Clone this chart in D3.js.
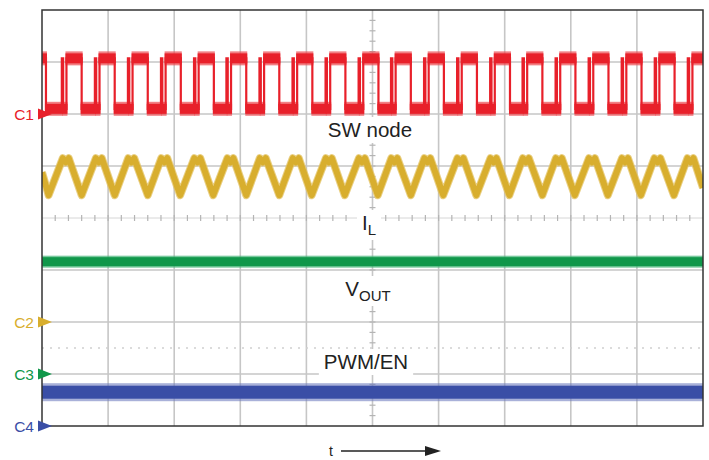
<!DOCTYPE html>
<html>
<head>
<meta charset="utf-8">
<script src="https://cdn.jsdelivr.net/npm/d3@7"></script>
<style>
  body { margin: 0; background: #fff; }
  svg { display: block; }
  text { font-family: "Liberation Sans", Arial, sans-serif; }
</style>
</head>
<body>
<svg id="chart" width="709" height="460"></svg>
<script>
// scope screen is 10 x 8 divisions, time and level both in divisions
var xDivs = d3.range(0, 11);
var yDivs = d3.range(-4, 5);

// C1, SW node: time of the ringing spike in front of each pulse
var swSpikes = [0.30, 0.80, 1.30, 1.80, 2.30, 2.79, 3.29, 3.79, 4.29, 4.79,
                5.28, 5.78, 6.28, 6.78, 7.27, 7.77, 8.27, 8.77, 9.27, 9.77];
var swPulse = [0, 0.02, 0.07, 0.30]; // up, down, up, down after each spike
var swHigh = 3.07, swLow = 2.1;
var swFirstFall = 0.06;

// C2, inductor current: troughs and peaks of the triangle
var ilTroughs = [0.10, 0.60, 1.10, 1.60, 2.09, 2.59, 3.09, 3.59, 4.08, 4.58,
                 5.08, 5.58, 6.07, 6.57, 7.07, 7.57, 8.06, 8.56, 9.06, 9.56];
var ilPeaks = [0.36, 0.86, 1.35, 1.85, 2.35, 2.85, 3.34, 3.84, 4.34, 4.84,
               5.33, 5.83, 6.33, 6.83, 7.32, 7.82, 8.32, 8.82, 9.31, 9.81];
var ilTop = 1.15, ilDip = 1.07, ilBottom = 0.44;
var ilStart = 0.88, ilEnd = 0.58;

// C3 VOUT and C4 PWM/EN: flat levels
var voutLevel = -0.84;
var pwmLevel = -3.35;

// channel markers
var channels = [
  { name: "C1", level: 2, color: "#e8202a" },
  { name: "C2", level: -2, color: "#d8ae2e" },
  { name: "C3", level: -3, color: "#10974a" },
  { name: "C4", level: -4, color: "#3a4ea6" }
];

var svg = d3.select("#chart");
var x = d3.scaleLinear().domain([0, 10]).range([42, 703]);
var y = d3.scaleLinear().domain([-4, 4]).range([426, 10]);

svg.append("defs").append("clipPath").attr("id", "screen")
  .append("rect").attr("x", x(0)).attr("y", y(4))
  .attr("width", x(10) - x(0)).attr("height", y(-4) - y(4));

// grid
var grid = svg.append("g");
grid.selectAll(".vg").data(xDivs.filter(function(d){ return d > 0 && d < 10; }))
  .enter().append("line")
  .attr("x1", function(d){ return x(d); }).attr("x2", function(d){ return x(d); })
  .attr("y1", y(4)).attr("y2", y(-4))
  .style("stroke", "#c6c6c6").style("stroke-width", 1.6);
grid.selectAll(".hg").data(yDivs.filter(function(d){ return d > -4 && d < 4 && d != 0; }))
  .enter().append("line")
  .attr("x1", x(0)).attr("x2", x(10))
  .attr("y1", function(d){ return y(d); }).attr("y2", function(d){ return y(d); })
  .style("stroke", "#c6c6c6").style("stroke-width", 1.6);
// center horizontal axis: faint line with minor ticks
grid.append("line").attr("x1", x(0)).attr("x2", x(10)).attr("y1", y(0)).attr("y2", y(0))
  .style("stroke", "#d6d6d6").style("stroke-width", 1);
grid.selectAll(".ht").data(d3.range(1, 50)).enter().append("line")
  .attr("x1", function(d){ return x(d / 5); }).attr("x2", function(d){ return x(d / 5); })
  .attr("y1", y(0) - 3).attr("y2", y(0) + 3)
  .style("stroke", "#b4b4b4").style("stroke-width", 1.2);
// center vertical axis ticks
grid.selectAll(".vt").data(d3.range(-19, 20)).enter().append("line")
  .attr("x1", x(5) - 3).attr("x2", x(5) + 3)
  .attr("y1", function(d){ return y(d / 5); }).attr("y2", function(d){ return y(d / 5); })
  .style("stroke", "#b4b4b4").style("stroke-width", 1.2);
// dotted reference level
grid.append("line").attr("x1", x(0)).attr("x2", x(10))
  .attr("y1", y(-2.5)).attr("y2", y(-2.5))
  .style("stroke", "#cfcfcf").style("stroke-width", 1.4)
  .style("stroke-dasharray", "2,6");

var traces = svg.append("g").attr("clip-path", "url(#screen)");

// SW node square wave
var swPts = [[0, swHigh], [swFirstFall, swLow]];
swSpikes.forEach(function(s){
  swPts.push([s + swPulse[0], swHigh]);
  swPts.push([s + swPulse[1], swLow]);
  swPts.push([s + swPulse[2], swHigh]);
  swPts.push([s + swPulse[3], swLow]);
});
swPts.push([10.2, swLow]);
var segs = [];
for (var i = 0; i < swPts.length - 1; i++) {
  if (swPts[i + 1][0] - swPts[i][0] > 0.04) segs.push([swPts[i][0], swPts[i + 1][0], swPts[i][1]]);
}
traces.selectAll(".swfuzz").data(segs).enter().append("rect")
  .attr("x", function(d){ return x(d[0]) - 1; })
  .attr("width", function(d){ return x(d[1]) - x(d[0]) + 2; })
  .attr("y", function(d){ return y(d[2]) - 7; }).attr("height", 14)
  .style("fill", "#ec4a50").style("opacity", 0.7);
traces.selectAll(".swband").data(segs).enter().append("rect")
  .attr("x", function(d){ return x(d[0]) - 1; })
  .attr("width", function(d){ return x(d[1]) - x(d[0]) + 2; })
  .attr("y", function(d){ return y(d[2]) - 5; }).attr("height", 10)
  .style("fill", "#e8202a");
traces.append("path").datum(swPts)
  .attr("d", d3.line().x(function(d){ return x(d[0]); }).y(function(d){ return y(d[1]); })
    .curve(d3.curveStepAfter))
  .style("fill", "none").style("stroke", "#e8202a").style("stroke-width", 2.2);

// inductor current triangle with double-horned peaks
var ilPts = [[0, ilStart]];
ilTroughs.forEach(function(t, k){
  ilPts.push([t, ilBottom]);
  var p = ilPeaks[k];
  ilPts.push([p - 0.045, ilTop]);
  ilPts.push([p, ilDip]);
  ilPts.push([p + 0.045, ilTop]);
});
ilPts.push([10, ilEnd]);
var ilLine = d3.line().x(function(d){ return x(d[0]); }).y(function(d){ return y(d[1]); });
traces.append("path").datum(ilPts).attr("d", ilLine)
  .style("fill", "none").style("stroke", "#e2bf5a").style("stroke-width", 8)
  .style("stroke-linejoin", "round").style("opacity", 0.75);
traces.append("path").datum(ilPts).attr("d", ilLine)
  .style("fill", "none").style("stroke", "#d8ae2e").style("stroke-width", 6)
  .style("stroke-linejoin", "round");

// VOUT
traces.append("rect").attr("x", x(0)).attr("width", x(10) - x(0))
  .attr("y", y(voutLevel) - 6).attr("height", 12)
  .style("fill", "#3fb274").style("opacity", 0.7);
traces.append("rect").attr("x", x(0)).attr("width", x(10) - x(0))
  .attr("y", y(voutLevel) - 4.5).attr("height", 9)
  .style("fill", "#10974a");

// PWM/EN
traces.append("rect").attr("x", x(0)).attr("width", x(10) - x(0))
  .attr("y", y(pwmLevel) - 9).attr("height", 18)
  .style("fill", "#6f7dc0").style("opacity", 0.6);
traces.append("rect").attr("x", x(0)).attr("width", x(10) - x(0))
  .attr("y", y(pwmLevel) - 6.5).attr("height", 13)
  .style("fill", "#3a4ea6");

// border
svg.append("rect").attr("x", x(0)).attr("y", y(4))
  .attr("width", x(10) - x(0)).attr("height", y(-4) - y(4))
  .style("fill", "none").style("stroke", "#333").style("stroke-width", 1.5);

// trace labels on white boxes
function label(cx, base, main, sub) {
  var g = svg.append("g");
  var box = g.append("rect").style("fill", "#fff");
  var t = g.append("text").attr("x", cx).attr("y", base)
    .attr("text-anchor", "middle").style("font-size", "20.5px").style("fill", "#222");
  t.append("tspan").text(main);
  if (sub) t.append("tspan").attr("dy", 5).style("font-size", "15px").text(sub);
  var b = t.node().getBBox();
  box.attr("x", b.x - 5).attr("y", b.y - 1).attr("width", b.width + 10).attr("height", b.height + 3);
}
label(370, 137, "SW node");
label(369, 230, "I", "L");
label(368, 296, "V", "OUT");
label(366, 369, "PWM/EN");

// channel markers
var ch = svg.selectAll(".ch").data(channels).enter().append("g");
ch.append("text").attr("x", 34).attr("y", function(d){ return y(d.level) + 5.5; })
  .attr("text-anchor", "end").style("font-size", "15.5px")
  .style("fill", function(d){ return d.color; }).text(function(d){ return d.name; });
ch.append("path")
  .attr("d", function(d){
    var yy = y(d.level);
    return "M38," + (yy - 5.5) + "L52," + yy + "L38," + (yy + 5.5) + "Z";
  })
  .style("fill", function(d){ return d.color; });

// time arrow
svg.append("text").attr("x", 331).attr("y", 456).attr("text-anchor", "middle")
  .style("font-size", "14px").style("fill", "#222").text("t");
svg.append("line").attr("x1", 341).attr("x2", 428).attr("y1", 451).attr("y2", 451)
  .style("stroke", "#222").style("stroke-width", 1.3);
svg.append("path").attr("d", "M425,446L441,451L425,456Z").style("fill", "#222");
</script>
</body>
</html>
